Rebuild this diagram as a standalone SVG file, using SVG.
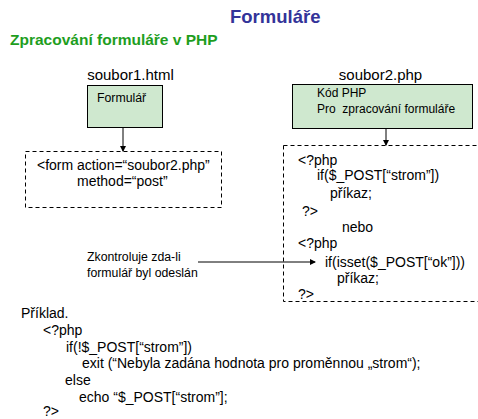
<svg xmlns="http://www.w3.org/2000/svg" width="478" height="419" viewBox="0 0 478 419">
<defs>
<style>
text{font-family:"Liberation Sans",Arial,sans-serif;font-size:14px;fill:#000;white-space:pre}
.title{font-size:18.5px;font-weight:bold;fill:#333399}
.sub{font-size:15.5px;font-weight:bold;fill:#1e9e1e}
.file{font-size:15px}
.box{fill:#cfe8cf;stroke:#000;stroke-width:1}
.dash{fill:none;stroke:#000;stroke-width:1;stroke-dasharray:4 3}
.sm{font-size:12px}
.note{font-size:12.3px}
.conn{stroke:#000;stroke-width:1;fill:none}
</style>
<marker id="ah" markerWidth="6" markerHeight="6" refX="5" refY="3" orient="auto" markerUnits="userSpaceOnUse">
<path d="M0,0 L6,3 L0,6 z" fill="#000"/>
</marker>
</defs>
<rect width="478" height="419" fill="#fff"/>
<text class="title" x="230" y="23">Formuláře</text>
<text class="sub" x="10" y="45">Zpracování formuláře v PHP</text>

<g id="soubor1">
<text class="file" x="130.5" y="80" text-anchor="middle">soubor1.html</text>
<rect class="box" x="87.5" y="85.5" width="75" height="42"/>
<text class="note" x="97" y="102">Formulář</text>
</g>

<g id="form">
<rect class="dash" x="25.5" y="151.5" width="196" height="56"/>
<text x="37" y="170">&lt;form action=“soubor2.php”</text>
<text x="77" y="186">method=“post”</text>
</g>

<g id="soubor2">
<text class="file" x="380.5" y="80" text-anchor="middle">soubor2.php</text>
<rect class="box" x="292.5" y="84.5" width="180" height="44"/>
<text class="sm" x="317" y="97">Kód PHP</text>
<text class="sm" x="317" y="113">Pro  zpracování formuláře</text>
</g>

<g id="php">
<rect class="dash" x="283.5" y="145.5" width="210" height="156"/>
<text x="298" y="165">&lt;?php</text>
<text x="317" y="180">if($_POST[“strom”])</text>
<text x="330" y="198">příkaz;</text>
<text x="302" y="216">?&gt;</text>
<text x="342" y="232">nebo</text>
<text x="298" y="248">&lt;?php</text>
<text x="325" y="267">if(isset($_POST[“ok”]))</text>
<text x="337" y="283">příkaz;</text>
<text x="298" y="299">?&gt;</text>
</g>

<g id="note">
<text class="note" x="87" y="261">Zkontroluje zda-li</text>
<text class="note" x="87" y="277">formulář byl odeslán</text>
</g>

<g id="example">
<text x="21" y="318">Příklad.</text>
<text x="43" y="335">&lt;?php</text>
<text x="66" y="352">if(!$_POST[“strom”])</text>
<text x="82" y="368">exit (“Nebyla zadána hodnota pro proměnnou „strom“);</text>
<text x="65" y="385">else</text>
<text x="79" y="402">echo “$_POST[“strom”];</text>
<text x="43" y="416">?&gt;</text>
</g>

<g id="connectors">
<line class="conn" x1="123" y1="128" x2="123" y2="151" marker-end="url(#ah)"/>
<line class="conn" x1="386" y1="129" x2="386" y2="145" marker-end="url(#ah)"/>
<line class="conn" x1="198" y1="262" x2="315" y2="262" marker-end="url(#ah)"/>
</g>
</svg>
